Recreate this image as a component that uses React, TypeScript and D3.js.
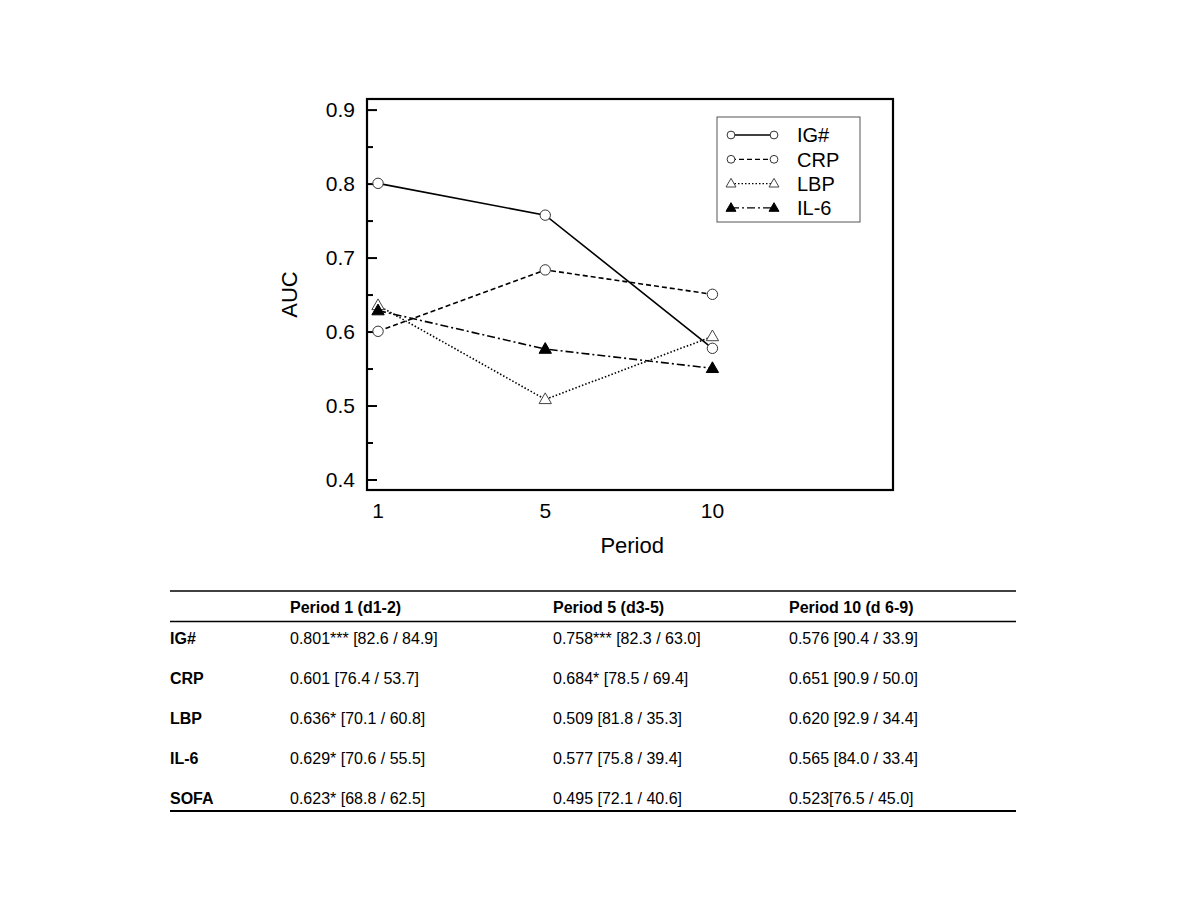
import React, { useEffect, useRef } from 'react';
import * as d3 from 'd3';

const periods = ['1', '5', '10'];
const igValues = [0.801, 0.758, 0.578];
const crpValues = [0.601, 0.684, 0.651];
const lbpValues = [0.636, 0.509, 0.594];
const il6Values = [0.629, 0.577, 0.551];
const yTicks = [0.4, 0.5, 0.6, 0.7, 0.8, 0.9];
const yMinorTicks = [0.45, 0.55, 0.65, 0.75, 0.85];

const tableHeader = ['', 'Period 1 (d1-2)', 'Period 5 (d3-5)', 'Period 10 (d 6-9)'];
const tableRowNames = ['IG#', 'CRP', 'LBP', 'IL-6', 'SOFA'];
const tablePeriod1 = ['0.801*** [82.6 / 84.9]', '0.601 [76.4 / 53.7]', '0.636* [70.1 / 60.8]', '0.629* [70.6 / 55.5]', '0.623* [68.8 / 62.5]'];
const tablePeriod5 = ['0.758*** [82.3 / 63.0]', '0.684* [78.5 / 69.4]', '0.509 [81.8 / 35.3]', '0.577 [75.8 / 39.4]', '0.495 [72.1 / 40.6]'];
const tablePeriod10 = ['0.576 [90.4 / 33.9]', '0.651 [90.9 / 50.0]', '0.620 [92.9 / 34.4]', '0.565 [84.0 / 33.4]', '0.523[76.5 / 45.0]'];

type Series = { name: string; values: number[]; dash: string; marker: 'circle' | 'triangle' | 'triangleFilled'; width: number };

const series: Series[] = [
  { name: 'IG#', values: igValues, dash: 'none', marker: 'circle', width: 1.6 },
  { name: 'CRP', values: crpValues, dash: '5,3', marker: 'circle', width: 1.6 },
  { name: 'LBP', values: lbpValues, dash: '1.5,2', marker: 'triangle', width: 1.6 },
  { name: 'IL-6', values: il6Values, dash: '8,3,2,3', marker: 'triangleFilled', width: 1.6 },
];

export default function App() {
  const svgRef = useRef<SVGSVGElement | null>(null);

  useEffect(() => {
    const svg = d3.select(svgRef.current);
    svg.selectAll('*').remove();

    const font = '"Liberation Sans", Arial, sans-serif';
    const narrow = '"Liberation Sans Narrow", "Arial Narrow", "Liberation Sans", sans-serif';

    // plot frame
    const left = 367, right = 893, top = 99, bottom = 490;
    const x = d3.scaleLinear().domain([-0.066, 3.08]).range([left, right]);
    const y = d3.scaleLinear().domain([0.3865, 0.915]).range([bottom, top]);

    const g = svg.append('g');

    // y ticks (inward)
    g.selectAll('.major').data(yTicks).join('line')
      .attr('x1', left).attr('x2', left + 10)
      .attr('y1', d => y(d)).attr('y2', d => y(d))
      .attr('stroke', '#000').attr('stroke-width', 2);
    g.selectAll('.minor').data(yMinorTicks).join('line')
      .attr('x1', left).attr('x2', left + 6)
      .attr('y1', d => y(d)).attr('y2', d => y(d))
      .attr('stroke', '#000').attr('stroke-width', 2);

    g.selectAll('.ylab').data(yTicks).join('text')
      .attr('x', left - 12).attr('y', d => y(d))
      .attr('dy', '0.35em').attr('text-anchor', 'end')
      .attr('font-family', font).attr('font-size', 21)
      .text(d => d.toFixed(1));

    g.selectAll('.xlab').data(periods).join('text')
      .attr('x', (d, i) => x(i)).attr('y', 518)
      .attr('text-anchor', 'middle')
      .attr('font-family', font).attr('font-size', 21)
      .text(d => d);

    g.append('text')
      .attr('transform', `translate(297, ${(top + bottom) / 2}) rotate(-90)`)
      .attr('text-anchor', 'middle')
      .attr('font-family', font).attr('font-size', 22)
      .text('AUC');

    g.append('text')
      .attr('x', x(1.52)).attr('y', 553)
      .attr('text-anchor', 'middle')
      .attr('font-family', font).attr('font-size', 22)
      .text('Period');

    const line = d3.line<number>().x((d, i) => x(i)).y(d => y(d));

    const drawMarker = (sel: d3.Selection<SVGGElement, unknown, null, undefined>, kind: Series['marker'], cx: number, cy: number) => {
      if (kind === 'circle') {
        sel.append('circle').attr('cx', cx).attr('cy', cy).attr('r', 5.2)
          .attr('fill', '#fff').attr('stroke', '#333').attr('stroke-width', 1);
      } else {
        const s = 6.5;
        sel.append('path')
          .attr('d', `M${cx},${cy - s}L${cx + s * 0.95},${cy + s * 0.65}L${cx - s * 0.95},${cy + s * 0.65}Z`)
          .attr('fill', kind === 'triangleFilled' ? '#000' : '#fff')
          .attr('stroke', kind === 'triangleFilled' ? '#000' : '#444')
          .attr('stroke-width', 1);
      }
    };

    series.forEach(s => {
      g.append('path').datum(s.values)
        .attr('d', line)
        .attr('fill', 'none').attr('stroke', '#000')
        .attr('stroke-width', s.width)
        .attr('stroke-dasharray', s.dash);
    });
    series.forEach(s => {
      const mg = g.append('g');
      s.values.forEach((v, i) => drawMarker(mg, s.marker, x(i), y(v)));
    });

    // frame
    g.append('rect')
      .attr('x', left).attr('y', top)
      .attr('width', right - left).attr('height', bottom - top)
      .attr('fill', 'none').attr('stroke', '#000').attr('stroke-width', 2.2);

    // legend
    const lg = g.append('g');
    lg.append('rect').attr('x', 717).attr('y', 117).attr('width', 143).attr('height', 105)
      .attr('fill', '#fff').attr('stroke', '#555').attr('stroke-width', 1);
    series.forEach((s, i) => {
      const ly = 135 + i * 24.3;
      lg.append('line').attr('x1', 731).attr('x2', 774).attr('y1', ly).attr('y2', ly)
        .attr('stroke', '#000').attr('stroke-width', 1.3).attr('stroke-dasharray', s.dash);
      const mg = lg.append('g');
      const markerScale = s.marker === 'circle' ? 0.75 : 0.7;
      [731, 774].forEach(mx => {
        if (s.marker === 'circle') {
          mg.append('circle').attr('cx', mx).attr('cy', ly).attr('r', 5.2 * markerScale)
            .attr('fill', '#fff').attr('stroke', '#333').attr('stroke-width', 1);
        } else {
          const sz = 6.5 * markerScale * 1.15;
          mg.append('path')
            .attr('d', `M${mx},${ly - sz}L${mx + sz * 0.95},${ly + sz * 0.65}L${mx - sz * 0.95},${ly + sz * 0.65}Z`)
            .attr('fill', s.marker === 'triangleFilled' ? '#000' : '#fff')
            .attr('stroke', s.marker === 'triangleFilled' ? '#000' : '#444')
            .attr('stroke-width', 1);
        }
      });
      lg.append('text').attr('x', 797).attr('y', ly).attr('dy', '0.36em')
        .attr('font-family', font).attr('font-size', 20)
        .text(s.name);
    });

    // table
    const tg = svg.append('g');
    const colX = [170, 290, 553, 789];
    const rowY = d3.scalePoint<string>().domain(tableRowNames).range([638, 798]);
    tg.append('line').attr('x1', 170).attr('x2', 1016).attr('y1', 591).attr('y2', 591)
      .attr('stroke', '#000').attr('stroke-width', 1.6);
    tg.append('line').attr('x1', 170).attr('x2', 1016).attr('y1', 621.5).attr('y2', 621.5)
      .attr('stroke', '#000').attr('stroke-width', 1.6);
    tg.append('line').attr('x1', 170).attr('x2', 1016).attr('y1', 811).attr('y2', 811)
      .attr('stroke', '#000').attr('stroke-width', 2);

    tableHeader.forEach((h, i) => {
      tg.append('text').attr('x', colX[i]).attr('y', 607).attr('dy', '0.35em')
        .attr('font-family', narrow).attr('font-size', 16).attr('font-weight', 'bold')
        .text(h);
    });
    const cols = [tablePeriod1, tablePeriod5, tablePeriod10];
    tableRowNames.forEach((r, ri) => {
      const ry = rowY(r) as number;
      tg.append('text').attr('x', colX[0]).attr('y', ry).attr('dy', '0.35em')
        .attr('font-family', narrow).attr('font-size', 16).attr('font-weight', 'bold')
        .text(r);
      cols.forEach((c, ci) => {
        tg.append('text').attr('x', colX[ci + 1]).attr('y', ry).attr('dy', '0.35em')
          .attr('font-family', narrow).attr('font-size', 16)
          .text(c[ri]);
      });
    });
  }, []);

  return (
    <svg
      ref={svgRef}
      width={1200}
      height={900}
      style={{ position: 'absolute', left: 0, top: 0, background: '#fff' }}
    />
  );
}
